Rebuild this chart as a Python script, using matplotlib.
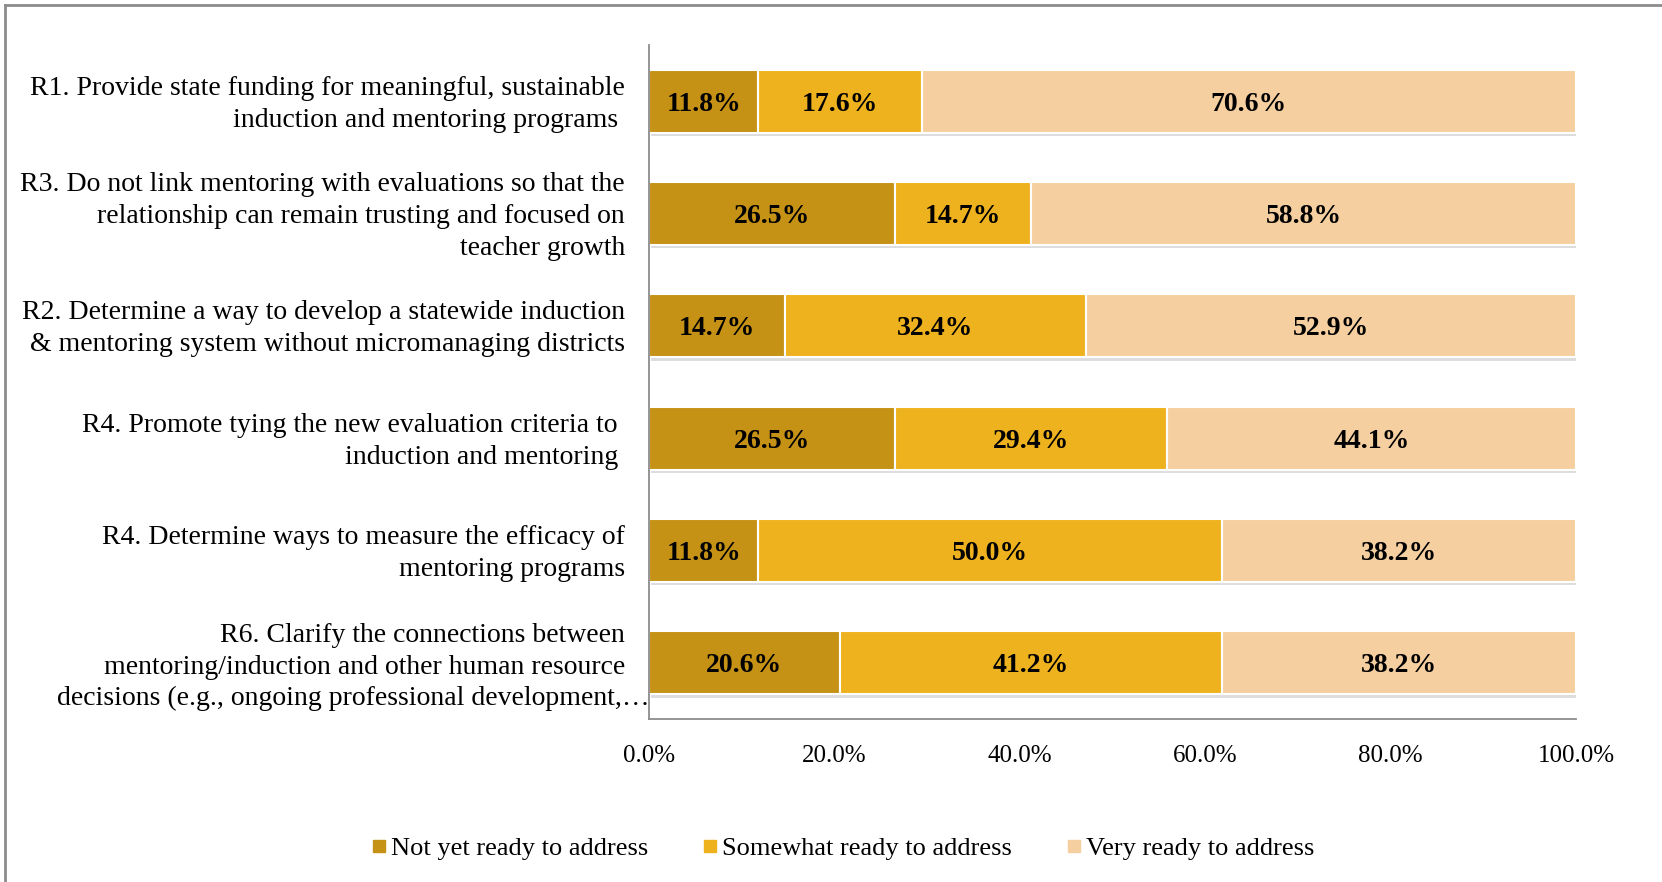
import numpy as np
import matplotlib.pyplot as plt
import matplotlib.patheffects as pe
from matplotlib.lines import Line2D
from matplotlib.transforms import offset_copy

plt.rcParams['font.family'] = ['Liberation Serif', 'DejaVu Serif']

# recommendations, top to bottom
labels = [
    "R1. Provide state funding for meaningful, sustainable\ninduction and mentoring programs ",
    "R3. Do not link mentoring with evaluations so that the\nrelationship can remain trusting and focused on\nteacher growth",
    "R2. Determine a way to develop a statewide induction\n& mentoring system without micromanaging districts",
    "R4. Promote tying the new evaluation criteria to \ninduction and mentoring ",
    "R4. Determine ways to measure the efficacy of\nmentoring programs",
    "R6. Clarify the connections between\nmentoring/induction and other human resource",
]
last_line = "decisions (e.g., ongoing professional development,…"

series = ["Not yet ready to address", "Somewhat ready to address", "Very ready to address"]
not_yet = [11.8, 26.5, 14.7, 26.5, 11.8, 20.6]
somewhat = [17.6, 14.7, 32.4, 29.4, 50.0, 41.2]
very = [70.6, 58.8, 52.9, 44.1, 38.2, 38.2]
colors = ['#C59215', '#EEB21E', '#F5CFA0']

fig = plt.figure(figsize=(16.62, 8.82), dpi=100)
ax = fig.add_axes([649/1662, 1-719/882, (1576-649)/1662, (719-45)/882])

y = np.arange(len(labels))
left = np.zeros(len(labels))
shadow = [pe.SimplePatchShadow(offset=(1.5, -2.5), shadow_rgbFace='#a0a0a0', alpha=0.35), pe.Normal()]
for vals, col in zip([not_yet, somewhat, very], colors):
    vals = np.array(vals)
    bars = ax.barh(y, vals, left=left, height=0.56, color=col,
                   edgecolor='white', linewidth=1.5, zorder=2)
    for b in bars:
        b.set_path_effects(shadow)
    for yi, l, v in zip(y, left, vals):
        ax.text(l + v/2, yi, f"{v:.1f}%", ha='center', va='center_baseline',
                fontsize=20, fontweight='bold', zorder=3)
    left += vals

ax.set_xlim(0, 100)
ax.set_ylim(len(labels) - 0.5, -0.5)
ax.set_xticks(np.arange(0, 101, 20))
ax.set_xticklabels([f"{t:.1f}%" for t in range(0, 101, 20)], fontsize=18)
ax.tick_params(axis='x', length=0, pad=19)
ax.set_yticks([])
for s in ['top', 'right']:
    ax.spines[s].set_visible(False)
for s in ['left', 'bottom']:
    ax.spines[s].set_color('#8c8c8c')
    ax.spines[s].set_linewidth(1.3)

# category labels, right aligned beside the axis
lab_x = -24/927*100
fs = 20
ls = 1.36
lab_tr = offset_copy(ax.transData, fig=fig, y=-3, units='dots')
for i, lab in enumerate(labels[:-1]):
    ax.text(lab_x, i, lab, ha='right', va='center', multialignment='right',
            fontsize=fs, linespacing=ls, clip_on=False, transform=lab_tr)
i = len(labels) - 1
ax.text(lab_x, i, labels[-1], ha='right', va='center', multialignment='right',
        fontsize=fs, linespacing=ls, clip_on=False,
        transform=offset_copy(ax.transData, fig=fig, y=11, units='dots'))
ax.text(1/927*100, i, last_line, ha='right', va='center', fontsize=fs, clip_on=False,
        transform=offset_copy(ax.transData, fig=fig, y=-36, units='dots'))

handles = [Line2D([], [], marker='s', linestyle='none', markersize=8,
                  markerfacecolor=c, markeredgecolor=c) for c in colors]
fig.legend(handles, series, loc='center', bbox_to_anchor=(842/1662, 1-848/882),
           ncol=3, frameon=False, fontsize=19, handletextpad=0.1,
           columnspacing=2.0, handlelength=0.7)

# chart area border (top and left edges)
fig.add_artist(Line2D([5/1662, 1], [1-5/882, 1-5/882], color='#8c8c8c', lw=2, transform=fig.transFigure))
fig.add_artist(Line2D([5/1662, 5/1662], [0, 1-5/882], color='#8c8c8c', lw=2, transform=fig.transFigure))

fig.savefig('out.png', dpi=100)
